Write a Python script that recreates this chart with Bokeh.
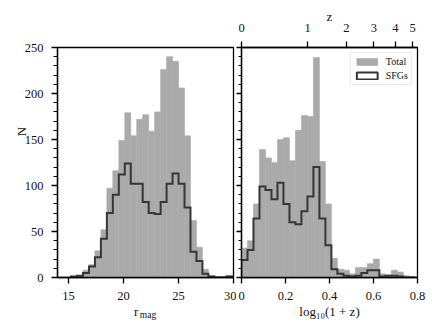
import numpy as np
from bokeh.plotting import figure
from bokeh.models import (Range1d, FixedTicker, SingleIntervalTicker, LinearAxis, Label,
                          CustomJSTickFormatter, Legend, LegendItem)
from bokeh.layouts import row
from bokeh.embed import file_html
from bokeh.resources import INLINE

# ---------------- data ----------------
rmag_edges = np.linspace(15.23, 29.89, 28)
rmag_total = [1, 2, 8, 14, 29, 52, 97, 116, 149, 179, 154, 172, 177, 159, 180,
              226, 240, 235, 206, 154, 62, 33, 9, 2, 1, 1, 2]
rmag_sfg = [1, 2, 5, 12, 22, 42, 70, 90, 112, 124, 102, 102, 82, 70, 69,
            82, 102, 113, 102, 76, 28, 18, 4, 1, 0, 0, 1]

logz_edges = np.linspace(0.0, 0.79, 30)
logz_total = [32, 40, 80, 139, 130, 125, 150, 152, 127, 160, 176, 175, 239, 126,
              80, 21, 9, 8, 4, 11, 11, 15, 20, 4, 3, 8, 6, 2, 1]
logz_sfg = [19, 30, 64, 99, 95, 85, 103, 80, 60, 58, 72, 88, 120, 64,
            35, 9, 4, 2, 1, 2, 5, 8, 8, 1, 2, 2, 1, 0, 0]

rmag_ticks = [15, 20, 25, 30]
logz_ticks = [0.0, 0.2, 0.4, 0.6, 0.8]
z_top_values = [0, 1, 2, 3, 4, 5]

FONT = "Liberation Serif"
GRAY = "#aaaaaa"
DARK = "#363636"
TXT = "#111111"

H = 327
TOP = 47
FRAME_H = 230
FRAME_W = 176


def step_outline(edges, counts):
    xs = np.repeat(np.asarray(edges, dtype=float), 2)
    ys = np.concatenate([[0], np.repeat(np.asarray(counts, dtype=float), 2), [0]])
    return xs, ys


def style_axis(ax, labels=True, tick_out=6, minor_out=4):
    ax.axis_line_color = "black"
    ax.axis_line_width = 1.3
    ax.major_tick_line_color = "black"
    ax.major_tick_line_width = 1.3
    ax.major_tick_out = tick_out
    ax.major_tick_in = 0
    ax.minor_tick_line_color = "black"
    ax.minor_tick_line_width = 1
    ax.minor_tick_out = minor_out
    ax.minor_tick_in = 0
    ax.major_label_text_font = FONT
    ax.major_label_text_color = TXT
    ax.major_label_text_font_size = "12.5px"
    if not labels:
        ax.formatter = CustomJSTickFormatter(code="return '';")
        ax.major_label_standoff = 0


def make_fig(x_range, mbl, mbr):
    p = figure(width=mbl + FRAME_W + mbr, height=H, x_range=x_range, y_range=Range1d(0, 250),
               output_backend="svg", toolbar_location=None,
               min_border_left=mbl, min_border_right=mbr,
               min_border_top=TOP, min_border_bottom=H - TOP - FRAME_H)
    p.xgrid.visible = False
    p.ygrid.visible = False
    p.outline_line_color = "black"
    p.outline_line_width = 1.3
    p.background_fill_color = "white"
    p.border_fill_color = "white"
    return p


def text_label(x, y, text, size, xo=0, yo=0, align="left", baseline="alphabetic", angle=0):
    return Label(x=x, y=y, x_offset=xo, y_offset=yo, text=text, angle=angle,
                 text_align=align, text_baseline=baseline,
                 text_font=FONT, text_font_size=size, text_color=TXT)


# ---------------- left panel ----------------
p1 = make_fig(Range1d(14, 30), 57, 3)
p1.quad(left=rmag_edges[:-1], right=rmag_edges[1:], top=rmag_total, bottom=0,
        fill_color=GRAY, line_color=GRAY, line_width=0.6)
xs, ys = step_outline(rmag_edges, rmag_sfg)
p1.line(xs, ys, line_color=DARK, line_width=2, line_join="miter")

p1.xaxis.ticker = FixedTicker(ticks=rmag_ticks)
p1.yaxis.ticker = SingleIntervalTicker(interval=50, num_minor_ticks=5)
style_axis(p1.xaxis[0])
style_axis(p1.yaxis[0])
p1.xaxis.major_label_standoff = 8
p1.yaxis.major_label_standoff = 8

# texts are hosted in side panels with spare room (so they are not clipped to the frame)
p1.add_layout(text_label(14, 158.7, "N", "13px", xo=-36, align="center",
                         baseline="middle", angle=np.pi / 2), "above")
p1.add_layout(text_label(22, 0, "mag", "9.5px", xo=-5.7, yo=-37.5), "above")
p1.add_layout(text_label(22, 0, "r", "13px", xo=-11.5, yo=-34), "below")

# ---------------- right panel ----------------
p2 = make_fig(Range1d(0, 0.8), 5, 14)
r_tot = p2.quad(left=logz_edges[:-1], right=logz_edges[1:], top=logz_total, bottom=0,
                fill_color=GRAY, line_color=GRAY, line_width=0.6)
xs2, ys2 = step_outline(logz_edges, logz_sfg)
p2.line(xs2, ys2, line_color=DARK, line_width=2, line_join="miter")
# outline-only bars, hidden: used only as the legend swatch of the SFG histogram
r_leg = p2.quad(left=logz_edges[:-1], right=logz_edges[1:], top=logz_sfg, bottom=0,
                fill_color=None, line_color=DARK, line_width=2)
r_leg.visible = False

p2.xaxis.ticker = FixedTicker(ticks=logz_ticks)
p2.yaxis.ticker = SingleIntervalTicker(interval=50, num_minor_ticks=5)
style_axis(p2.xaxis[0])
style_axis(p2.yaxis[0], labels=False, tick_out=5, minor_out=3)
p2.xaxis.major_label_standoff = 8

top_axis = LinearAxis(
    ticker=FixedTicker(ticks=[float(np.log10(1 + z)) for z in z_top_values]),
    formatter=CustomJSTickFormatter(code="return String(Math.round(Math.pow(10, tick) - 1));"))
style_axis(top_axis)
top_axis.major_label_standoff = 10
p2.add_layout(top_axis, "above")

p2.add_layout(text_label(0.4, 250, "z", "13px", yo=31, align="center"), "above")
p2.add_layout(text_label(0.4, 0, "log\u2081\u2080(1 + z)", "13px", yo=-34, align="center"), "below")

legend = Legend(items=[LegendItem(label="Total", renderers=[r_tot]),
                       LegendItem(label="SFGs", renderers=[r_leg])],
                location="top_right")
legend.margin = 5
legend.padding = 3
legend.spacing = 3
legend.glyph_width = 26
legend.glyph_height = 9
legend.label_height = 9
legend.label_standoff = 6
legend.label_text_font = FONT
legend.label_text_font_size = "10px"
legend.label_text_color = TXT
legend.inactive_fill_alpha = 0
legend.border_line_color = "#d0d0d0"
legend.border_line_width = 1
legend.background_fill_alpha = 0.85
p2.add_layout(legend)

layout = row(p1, p2)
open("out.html", "w").write(file_html(layout, INLINE))
